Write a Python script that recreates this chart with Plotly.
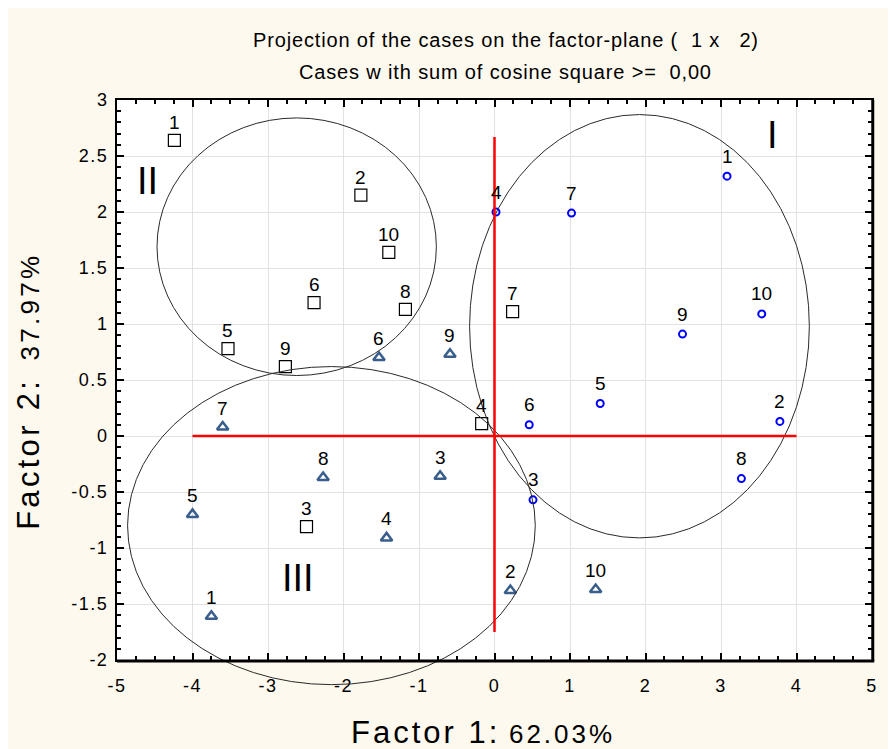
import plotly.graph_objects as go

# ---------------- data ----------------
case_labels = ["1", "2", "3", "4", "5", "6", "7", "8", "9", "10"]

# group I (blue circles)
g1_x = [3.08, 3.78, 0.51, 0.02, 1.40, 0.46, 1.02, 3.27, 2.49, 3.54]
g1_y = [2.32, 0.13, -0.57, 2.00, 0.29, 0.10, 1.99, -0.38, 0.91, 1.09]
# group II (black squares)
g2_x = [-4.24, -1.77, -2.49, -0.17, -3.53, -2.39, 0.24, -1.18, -2.77, -1.40]
g2_y = [2.64, 2.15, -0.81, 0.11, 0.78, 1.19, 1.11, 1.13, 0.62, 1.64]
# group III (steel-blue triangles)
g3_x = [-3.75, 0.21, -0.72, -1.43, -4.00, -1.53, -3.60, -2.27, -0.59, 1.34]
g3_y = [-1.61, -1.38, -0.36, -0.91, -0.70, 0.70, 0.08, -0.37, 0.73, -1.37]

# cluster ellipses: centre x, centre y, radius x, radius y
ell_cx = [1.92, -2.62, -2.16]
ell_cy = [0.98, 1.69, -0.80]
ell_rx = [2.25, 1.85, 2.70]
ell_ry = [1.89, 1.15, 1.42]

# roman numeral labels
roman_text = ["I", "II", "III"]
roman_x = [3.68, -4.59, -2.60]
roman_y = [2.69, 2.28, -1.27]

# red reference axes
hline_x = [-4.0, 4.0]
vline_y = [-1.75, 2.67]

x_range = [-5, 5]
y_range = [-2, 3]
x_tick_vals = [-5, -4, -3, -2, -1, 0, 1, 2, 3, 4, 5]
x_tick_text = ["-5", "-4", "-3", "-2", "-1", "0", "1", "2", "3", "4", "5"]
y_tick_vals = [-2, -1.5, -1, -0.5, 0, 0.5, 1, 1.5, 2, 2.5, 3]
y_tick_text = ["-2", "-1.5", "-1", "-0.5", "0", "0.5", "1", "1.5", "2", "2.5", "3"]

title1 = "Projection of the cases on the factor-plane (  1 x   2)"
title2 = "Cases w ith sum of cosine square >=  0,00"
x_title = "Factor 1:"
x_pct = "62.03%"
y_title = "Factor 2:"
y_pct = "37.97%"

FONT = "Liberation Sans, Arial, sans-serif"
CREAM = "#FEF9EE"


def spaced(txt, px, size=None):
    style = "letter-spacing:%spx" % px
    if size:
        style += ";font-size:%dpx" % size
    return "<span style='%s'>%s</span>" % (style, txt)


fig = go.Figure()

fig.add_trace(go.Scatter(
    x=g1_x, y=g1_y, mode="markers", name="I",
    marker=dict(symbol="circle-open", size=7, color="#0000FF",
                line=dict(width=2, color="#0000FF")),
    cliponaxis=False))
fig.add_trace(go.Scatter(
    x=g2_x, y=g2_y, mode="markers", name="II",
    marker=dict(symbol="square-open", size=12, color="#000000",
                line=dict(width=1.2, color="#000000")),
    cliponaxis=False))
fig.add_trace(go.Scatter(
    x=g3_x, y=g3_y, mode="markers", name="III",
    marker=dict(symbol="triangle-up-open", size=10, color="#3A5E8C",
                line=dict(width=2.5, color="#3A5E8C")),
    cliponaxis=False))

annotations = []
for xs, ys, shift in ((g1_x, g1_y, 20), (g2_x, g2_y, 18), (g3_x, g3_y, 19)):
    for lab, xv, yv in zip(case_labels, xs, ys):
        annotations.append(dict(
            x=xv, y=yv, xref="x", yref="y", text=lab, showarrow=False,
            yshift=shift, xanchor="center", yanchor="middle",
            font=dict(family=FONT, size=19, color="black")))

for t, xv, yv in zip(roman_text, roman_x, roman_y):
    annotations.append(dict(
        x=xv, y=yv, xref="x", yref="y", text=t, showarrow=False,
        xanchor="center", yanchor="middle",
        font=dict(family=FONT, size=38, color="black")))

# titles
annotations.append(dict(x=0.5146, y=1.107, xref="paper", yref="paper",
                        text=spaced(title1, 0.85), showarrow=False,
                        xanchor="center", yanchor="middle",
                        font=dict(family=FONT, size=20, color="black")))
annotations.append(dict(x=0.5146, y=1.05, xref="paper", yref="paper",
                        text=spaced(title2, 0.85), showarrow=False,
                        xanchor="center", yanchor="middle",
                        font=dict(family=FONT, size=20, color="black")))
annotations.append(dict(
    x=0.485, y=-0.13, xref="paper", yref="paper",
    text=spaced(x_title, 3) + " " + spaced(x_pct, 3, 26),
    showarrow=False, xanchor="center", yanchor="middle",
    font=dict(family=FONT, size=31, color="black")))
annotations.append(dict(
    x=-0.117, y=0.48, xref="paper", yref="paper",
    text=spaced(y_title, 3.3) + "  " + spaced(y_pct, 3.3, 26),
    showarrow=False, xanchor="center", yanchor="middle", textangle=-90,
    font=dict(family=FONT, size=31, color="black")))

shapes = []
# ellipses (paper coordinates derived from data so they may extend beyond the frame)
xspan = x_range[1] - x_range[0]
yspan = y_range[1] - y_range[0]
for cx, cy, rx, ry in zip(ell_cx, ell_cy, ell_rx, ell_ry):
    shapes.append(dict(
        type="circle", xref="paper", yref="paper",
        x0=(cx - rx - x_range[0]) / xspan, x1=(cx + rx - x_range[0]) / xspan,
        y0=(cy - ry - y_range[0]) / yspan, y1=(cy + ry - y_range[0]) / yspan,
        line=dict(color="#2a2a2a", width=1)))

# red axes
shapes.append(dict(type="line", xref="x", yref="y", x0=hline_x[0], x1=hline_x[1],
                   y0=0, y1=0, line=dict(color="#FF0000", width=2.5)))
shapes.append(dict(type="line", xref="x", yref="y", x0=0, x1=0,
                   y0=vline_y[0], y1=vline_y[1], line=dict(color="#FF0000", width=2.5)))

# heavier right / bottom frame edges
shapes.append(dict(type="line", xref="paper", yref="paper", x0=1.001, x1=1.001, y0=-0.002, y1=1,
                   line=dict(color="black", width=3)))
shapes.append(dict(type="line", xref="paper", yref="paper", x0=0, x1=1.003, y0=-0.002, y1=-0.002,
                   line=dict(color="black", width=3)))

axis_common = dict(
    showgrid=True, gridcolor="#E2E2E2", gridwidth=1, zeroline=False,
    showline=True, linecolor="black", linewidth=2, mirror="ticks",
    ticks="inside", ticklen=7, tickwidth=2, tickcolor="black",
    tickfont=dict(family=FONT, size=18, color="black"),
)

# the page body adds an 8px offset; size the figure so the frame lands where the reference has it
fig.update_layout(
    width=888, height=741,
    margin=dict(l=109, r=24, t=92, b=89, pad=0),
    paper_bgcolor=CREAM, plot_bgcolor="white",
    showlegend=False,
    annotations=annotations, shapes=shapes,
    xaxis=dict(range=x_range, tickvals=x_tick_vals,
               ticktext=[spaced(t, 1.5) for t in x_tick_text],
               ticklabelstandoff=8,
               minor=dict(tickvals=[v / 4 for v in range(-20, 21)], ticks="inside",
                          ticklen=4, tickwidth=1.5, tickcolor="black", showgrid=False),
               **axis_common),
    yaxis=dict(range=y_range, tickvals=y_tick_vals,
               ticktext=[spaced(t, 1.5) for t in y_tick_text],
               ticklabelstandoff=3,
               minor=dict(tickvals=[v / 10 for v in range(-20, 31)], ticks="inside",
                          ticklen=4, tickwidth=1.5, tickcolor="black", showgrid=False),
               **axis_common),
)

fig.write_html("out.html")
